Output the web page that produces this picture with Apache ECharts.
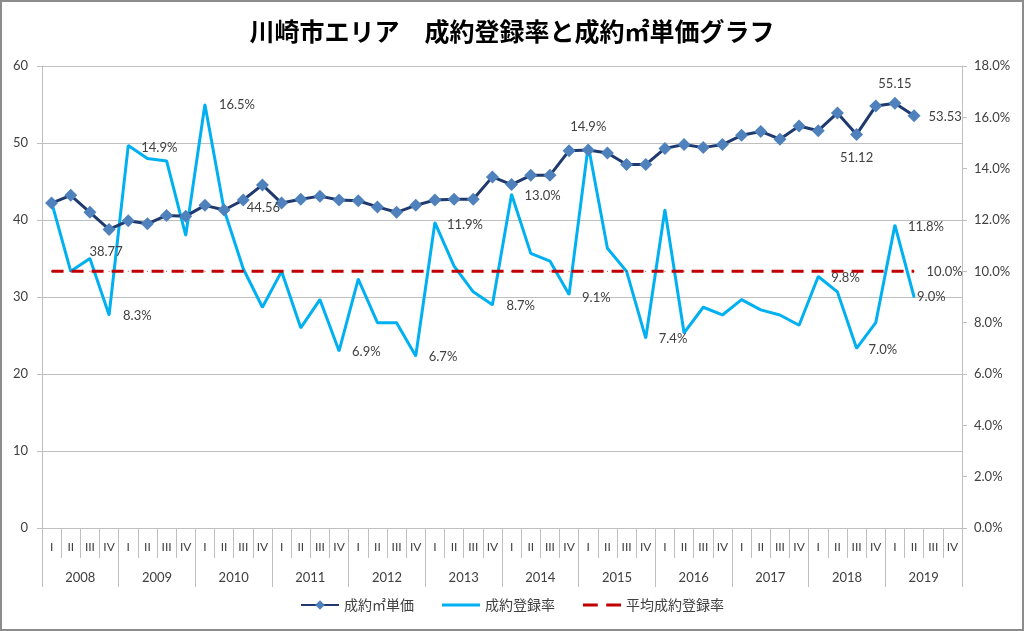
<!DOCTYPE html>
<html><head><meta charset="utf-8">
<script src="https://cdn.jsdelivr.net/npm/echarts@6/dist/echarts.min.js"></script>
<style>html,body{margin:0;padding:0;background:#fff}#c{width:1024px;height:631px}</style>
</head><body><div id="c"></div>
<script>
const years = ['2008','2009','2010','2011','2012','2013','2014','2015','2016','2017','2018','2019'];
const quarterNames = ['I','II','III','IV'];
const price = [42.2, 43.2, 41.0, 38.77, 39.9, 39.5, 40.6, 40.5, 41.9, 41.3, 42.6, 44.56,
  42.2, 42.7, 43.1, 42.6, 42.5, 41.7, 41.0, 41.9, 42.6, 42.7, 42.7, 45.6,
  44.6, 45.8, 45.8, 49.0, 49.1, 48.7, 47.2, 47.2, 49.3, 49.8, 49.4, 49.8,
  51.0, 51.5, 50.5, 52.2, 51.6, 53.9, 51.12, 54.8, 55.15, 53.53];
const rate = [12.7, 10.0, 10.5, 8.3, 14.9, 14.4, 14.3, 11.4, 16.5, 12.4, 10.1, 8.6,
  10.0, 7.8, 8.9, 6.9, 9.7, 8.0, 8.0, 6.7, 11.9, 10.2, 9.2, 8.7,
  13.0, 10.7, 10.4, 9.1, 14.9, 10.9, 10.0, 7.4, 12.4, 7.6, 8.6, 8.3,
  8.9, 8.5, 8.3, 7.9, 9.8, 9.2, 7.0, 8.0, 11.8, 9.0];
const avgRate = 10.0;

const quarters = [];
years.forEach(() => quarterNames.forEach(q => quarters.push(q)));
const avg = price.map(() => avgRate);

const LF = 'Lato, "Liberation Sans", sans-serif';
const CJK = '"Noto Sans CJK JP", sans-serif';
const txt = '#404040';

// label placement (index -> [position, distance, offset])
const priceLab = {3:['bottom',9,[-3,0]], 11:['bottom',10,[1,0]], 42:['bottom',10,[0,0]], 44:['top',7,[0,0]], 45:['right',8,[0,1]]};
const rateLab = {3:['right',13,[0,1]], 4:['right',12,[0,2]], 8:['right',13,[0,0]], 15:['right',12,[0,1]], 19:['right',12,[0,1]],
  20:['right',11,[0,2]], 23:['right',13,[0,1]], 24:['right',12,[0,1]], 27:['right',12,[0,3]], 28:['top',11,[0,0]],
  31:['right',12,[0,1]], 40:['right',12,[0,1]], 42:['right',11,[0,1]], 44:['right',12,[0,2]], 45:['right',2,[0,0]]};

function withLabels(arr, map, fmt) {
  return arr.map((v, i) => {
    const m = map[i];
    if (!m) return v;
    return {value: v, label: {show: true, position: m[0], distance: m[1], offset: m[2], formatter: fmt,
      color: txt, fontSize: 13, fontFamily: LF}};
  });
}

const chart = echarts.init(document.getElementById('c'), null, {renderer: 'canvas'});
chart.setOption({
  animation: false,
  backgroundColor: '#fff',
  title: {text: '川崎市エリア　成約登録率と成約㎡単価グラフ', left: 'center', top: 14,
    textStyle: {fontFamily: CJK, fontSize: 25, fontWeight: 'bold', color: '#000'}},
  graphic: [{type: 'rect', shape: {x: 1, y: 1, width: 1022, height: 629}, style: {fill: 'none', stroke: '#8c8c8c', lineWidth: 2}, silent: true, z: 100}],
  grid: {left: 42, right: 62, top: 66, bottom: 103},
  legend: {bottom: 14, left: 'center', itemWidth: 38, itemHeight: 12, itemGap: 28,
    textStyle: {fontFamily: CJK, fontSize: 14, color: txt},
    data: [
      {name: '成約㎡単価'},
      {name: '成約登録率', icon: 'path://M0,0 L38,0 L38,3 L0,3 Z'},
      {name: '平均成約登録率', icon: 'path://M0,0 L14,0 L14,3 L0,3 Z M22,0 L36,0 L36,3 L22,3 Z'}
    ]},
  xAxis: [
    {type: 'category', position: 'bottom', data: quarters, boundaryGap: true,
      axisLine: {show: true, lineStyle: {color: '#bfbfbf', width: 1}},
      axisTick: {show: true, interval: 0, length: 30, lineStyle: {color: '#bfbfbf'}},
      axisLabel: {interval: 0, margin: 13, fontSize: 12, color: txt, fontFamily: LF},
      splitLine: {show: false}},
    {type: 'category', position: 'bottom', data: years, boundaryGap: true,
      axisLine: {show: false},
      axisTick: {show: true, interval: 0, length: 59, lineStyle: {color: '#bfbfbf'}},
      axisLabel: {interval: 0, margin: 43, fontSize: 13, color: txt, fontFamily: LF},
      splitLine: {show: false}}
  ],
  yAxis: [
    {type: 'value', min: 0, max: 60, interval: 10, position: 'left',
      axisLine: {show: true, lineStyle: {color: '#bfbfbf'}},
      axisTick: {show: true, length: 5, lineStyle: {color: '#bfbfbf'}},
      axisLabel: {margin: 14, fontSize: 13, color: txt, fontFamily: LF},
      splitLine: {show: true, lineStyle: {color: '#bfbfbf', width: 1}}},
    {type: 'value', min: 0, max: 18, interval: 2, position: 'right',
      axisLine: {show: true, lineStyle: {color: '#bfbfbf'}},
      axisTick: {show: true, length: 5, lineStyle: {color: '#bfbfbf'}},
      axisLabel: {margin: 12, fontSize: 13, color: txt, fontFamily: LF, formatter: v => v.toFixed(1) + '%'},
      splitLine: {show: false}}
  ],
  series: [
    {name: '成約登録率', type: 'line', xAxisIndex: 0, yAxisIndex: 1, z: 2,
      data: withLabels(rate, rateLab, p => p.value.toFixed(1) + '%'),
      symbol: 'circle', symbolSize: 2, showSymbol: true,
      itemStyle: {color: '#00B0F0'}, lineStyle: {color: '#00B0F0', width: 3}},
    {name: '平均成約登録率', type: 'line', xAxisIndex: 0, yAxisIndex: 1, z: 3,
      data: withLabels(avg, {45: ['right', 12, [0, 0]]}, p => p.value.toFixed(1) + '%'),
      symbol: 'circle', symbolSize: 1, showSymbol: true,
      itemStyle: {color: '#C00000'}, lineStyle: {color: '#C00000', width: 3, type: [12, 8]}},
    {name: '成約㎡単価', type: 'line', xAxisIndex: 0, yAxisIndex: 0, z: 4,
      data: withLabels(price, priceLab, p => String(p.value)),
      symbol: 'diamond', symbolSize: 13, showSymbol: true,
      itemStyle: {color: '#4F81BD'}, lineStyle: {color: '#1F3A6E', width: 3}}
  ]
});
</script></body></html>
